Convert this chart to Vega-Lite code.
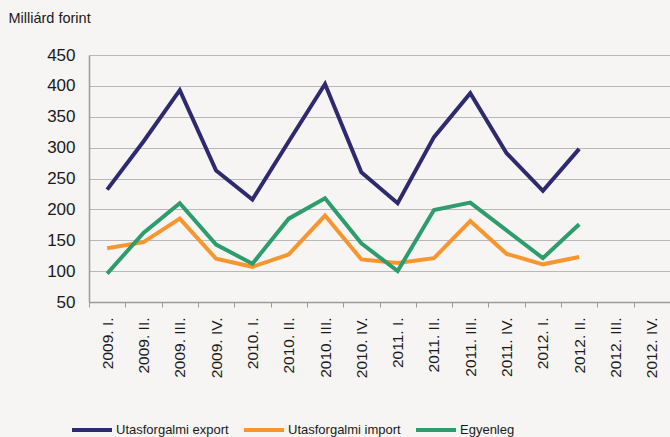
{
  "$schema": "https://vega.github.io/schema/vega-lite/v6.json",
  "width": 581,
  "height": 247,
  "autosize": {"type": "none"},
  "padding": {"left": 89, "top": 55, "right": 0, "bottom": 135},
  "background": "#f6f5f3",
  "config": {"view": {"stroke": null}, "font": "Liberation Sans"},
  "data": {"values": [
    {"q": "2009. I.", "s": "Utasforgalmi export", "v": 232},
    {"q": "2009. II.", "s": "Utasforgalmi export", "v": 310},
    {"q": "2009. III.", "s": "Utasforgalmi export", "v": 393},
    {"q": "2009. IV.", "s": "Utasforgalmi export", "v": 263},
    {"q": "2010. I.", "s": "Utasforgalmi export", "v": 216},
    {"q": "2010. II.", "s": "Utasforgalmi export", "v": 310},
    {"q": "2010. III.", "s": "Utasforgalmi export", "v": 403},
    {"q": "2010. IV.", "s": "Utasforgalmi export", "v": 260},
    {"q": "2011. I.", "s": "Utasforgalmi export", "v": 210},
    {"q": "2011. II.", "s": "Utasforgalmi export", "v": 317},
    {"q": "2011. III.", "s": "Utasforgalmi export", "v": 388},
    {"q": "2011. IV.", "s": "Utasforgalmi export", "v": 291},
    {"q": "2012. I.", "s": "Utasforgalmi export", "v": 230},
    {"q": "2012. II.", "s": "Utasforgalmi export", "v": 298},
    {"q": "2009. I.", "s": "Utasforgalmi import", "v": 137},
    {"q": "2009. II.", "s": "Utasforgalmi import", "v": 147},
    {"q": "2009. III.", "s": "Utasforgalmi import", "v": 185},
    {"q": "2009. IV.", "s": "Utasforgalmi import", "v": 120},
    {"q": "2010. I.", "s": "Utasforgalmi import", "v": 107},
    {"q": "2010. II.", "s": "Utasforgalmi import", "v": 127},
    {"q": "2010. III.", "s": "Utasforgalmi import", "v": 190},
    {"q": "2010. IV.", "s": "Utasforgalmi import", "v": 119},
    {"q": "2011. I.", "s": "Utasforgalmi import", "v": 113},
    {"q": "2011. II.", "s": "Utasforgalmi import", "v": 121},
    {"q": "2011. III.", "s": "Utasforgalmi import", "v": 181},
    {"q": "2011. IV.", "s": "Utasforgalmi import", "v": 128},
    {"q": "2012. I.", "s": "Utasforgalmi import", "v": 111},
    {"q": "2012. II.", "s": "Utasforgalmi import", "v": 123},
    {"q": "2009. I.", "s": "Egyenleg", "v": 96},
    {"q": "2009. II.", "s": "Egyenleg", "v": 162},
    {"q": "2009. III.", "s": "Egyenleg", "v": 210},
    {"q": "2009. IV.", "s": "Egyenleg", "v": 143},
    {"q": "2010. I.", "s": "Egyenleg", "v": 112},
    {"q": "2010. II.", "s": "Egyenleg", "v": 185},
    {"q": "2010. III.", "s": "Egyenleg", "v": 218},
    {"q": "2010. IV.", "s": "Egyenleg", "v": 145},
    {"q": "2011. I.", "s": "Egyenleg", "v": 100},
    {"q": "2011. II.", "s": "Egyenleg", "v": 199},
    {"q": "2011. III.", "s": "Egyenleg", "v": 211},
    {"q": "2011. IV.", "s": "Egyenleg", "v": 166},
    {"q": "2012. I.", "s": "Egyenleg", "v": 121},
    {"q": "2012. II.", "s": "Egyenleg", "v": 176}
  ]},
  "mark": {"type": "line", "strokeWidth": 4, "strokeJoin": "miter"},
  "encoding": {
    "x": {
      "field": "q", "type": "ordinal", "bandPosition": 0.5,
      "scale": {"type": "band", "paddingInner": 0, "paddingOuter": 0,
        "domain": ["2009. I.", "2009. II.", "2009. III.", "2009. IV.", "2010. I.", "2010. II.", "2010. III.", "2010. IV.", "2011. I.", "2011. II.", "2011. III.", "2011. IV.", "2012. I.", "2012. II.", "2012. III.", "2012. IV."]},
      "axis": {"title": null, "labelAngle": -90, "labelFontSize": 15.5, "labelColor": "#1a1a1a", "labelPadding": 10,
        "tickBand": "extent", "tickSize": 5, "tickColor": "#9a9a9a", "domainColor": "#9a9a9a", "domainWidth": 1.5, "grid": false}
    },
    "y": {
      "field": "v", "type": "quantitative",
      "scale": {"domain": [50, 450], "nice": false, "zero": false},
      "axis": {"values": [50, 100, 150, 200, 250, 300, 350, 400, 450], "title": "Milliárd forint",
        "titleAngle": 0, "titleX": -81, "titleY": -37, "titleAlign": "left", "titleBaseline": "middle",
        "titleFontSize": 14.5, "titleFontWeight": "normal", "titleColor": "#1a1a1a",
        "labelFontSize": 17, "labelColor": "#1a1a1a", "labelPadding": 14, "ticks": false,
        "domainColor": "#9a9a9a", "domainWidth": 1.5, "gridColor": "#b8b8b8", "gridWidth": 1.2}
    },
    "color": {
      "field": "s", "type": "nominal",
      "scale": {"domain": ["Utasforgalmi export", "Utasforgalmi import", "Egyenleg"], "range": ["#2e2a6e", "#f7962f", "#2e9c6d"]},
      "legend": {"title": null, "orient": "none", "legendX": -19, "legendY": 353, "direction": "horizontal",
        "symbolType": "stroke", "symbolSize": 1600, "symbolStrokeWidth": 4,
        "labelFontSize": 13, "labelColor": "#1a1a1a", "columnPadding": 7, "labelOffset": 2}
    }
  }
}
